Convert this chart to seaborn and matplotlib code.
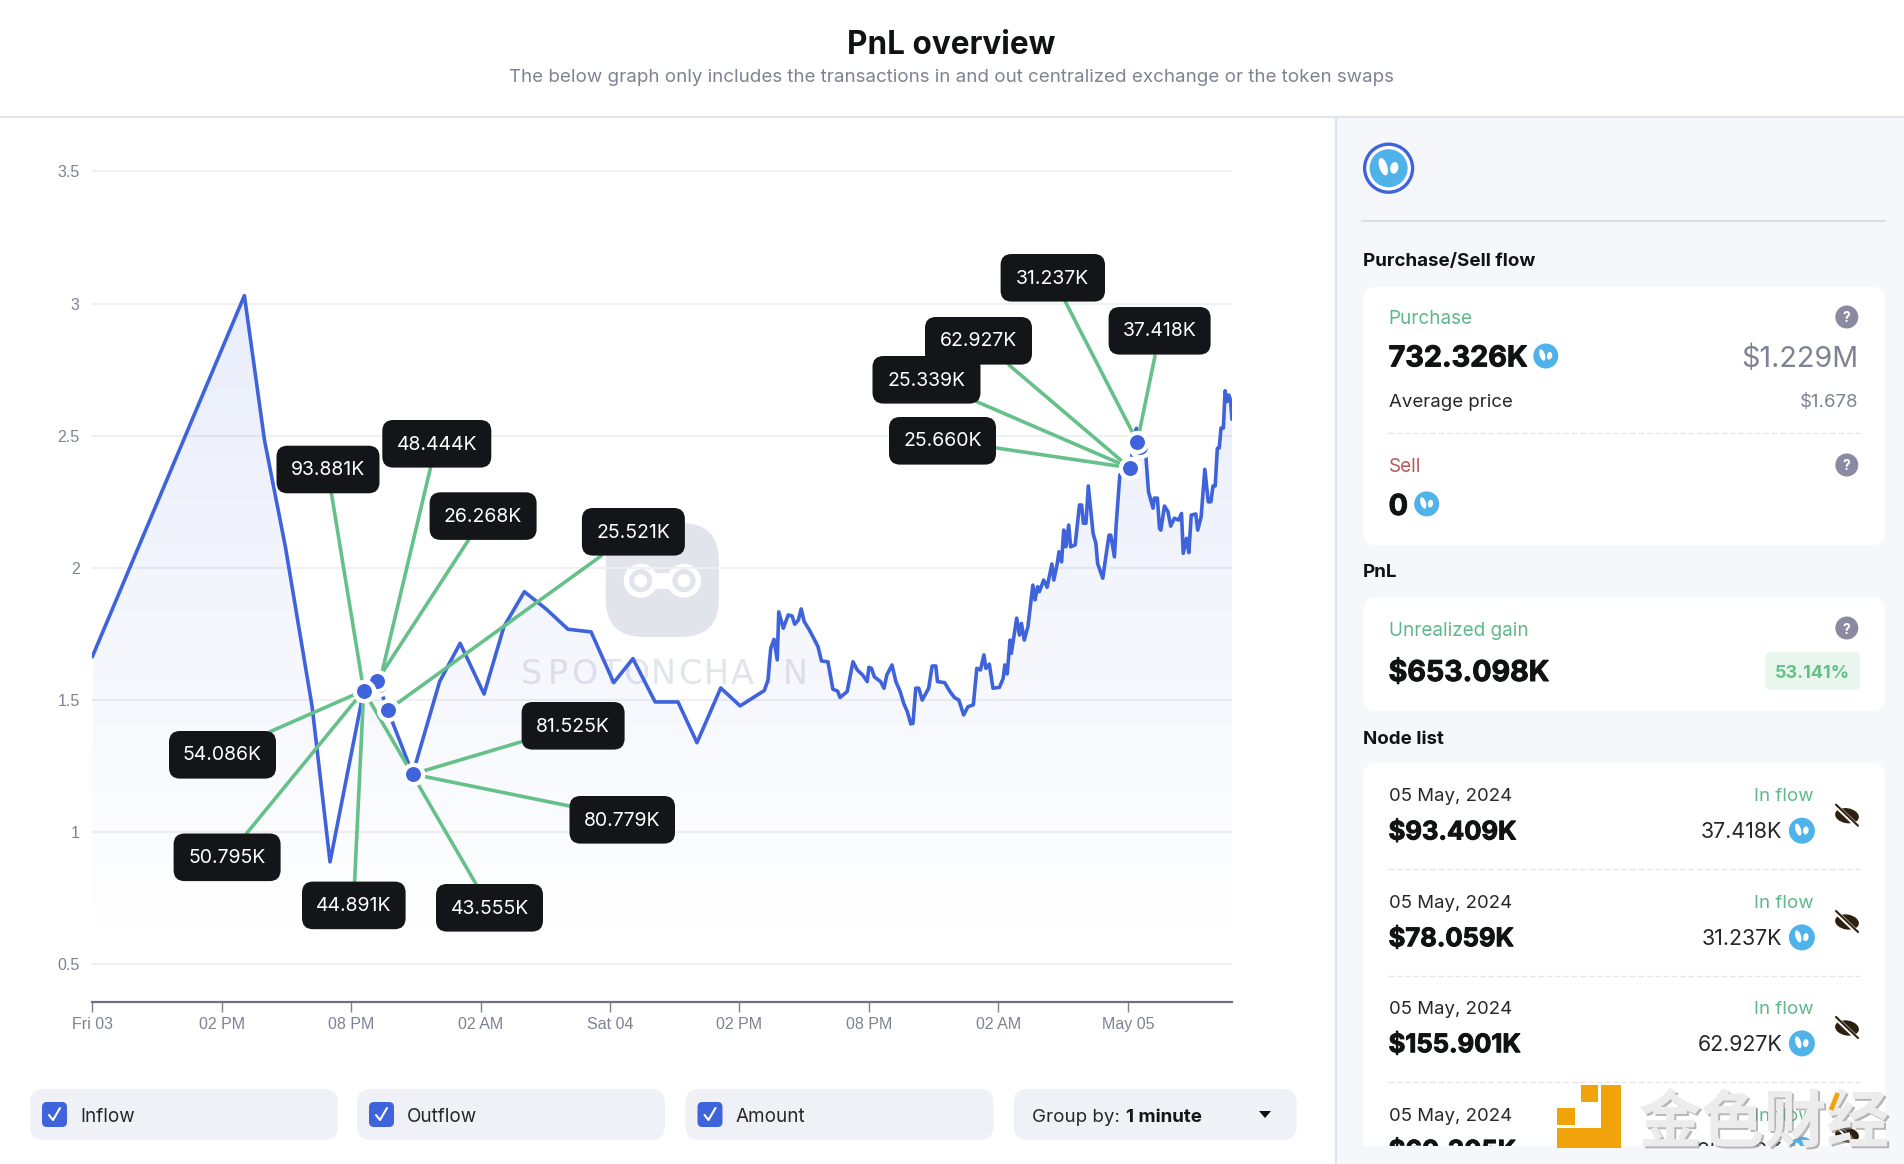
#PnL overview panel

import matplotlib
matplotlib.use('Agg')
import matplotlib.pyplot as plt
import matplotlib.patheffects as pe
from matplotlib.colors import LinearSegmentedColormap
from matplotlib.patches import FancyBboxPatch, Circle, Ellipse, Rectangle, Polygon
import numpy as np
import pandas as pd
import seaborn as sns

# hours since the first tick
price_hours = [0, 7.05, 7.98, 8.95, 10.19, 11.02, 12.58, 13.2, 13.7, 14.85, 16.1, 17.05, 18.16, 19.08, 20.03,
    21.06, 22.05, 23.12, 24.17, 25.06, 26.09, 27.15, 28.03, 29.13, 30.03, 31.15, 31.32, 31.45, 31.6, 31.75,
    31.82, 32.03, 32.26, 32.44, 32.56, 32.73, 32.86, 33.0, 33.22, 33.44, 33.64, 33.8, 34.1, 34.33, 34.55,
    34.66, 34.99, 35.26, 35.46, 35.71, 35.92, 36.0, 36.12, 36.25, 36.54, 36.7, 36.83, 37.07, 37.25, 37.45,
    37.61, 37.78, 37.94, 38.04, 38.17, 38.31, 38.47, 38.77, 38.93, 39.1, 39.18, 39.51, 39.76, 39.96, 40.17,
    40.39, 40.59, 40.84, 41.0, 41.17, 41.33, 41.42, 41.58, 41.75, 42.05, 42.22, 42.3, 42.41, 42.54, 42.6,
    42.85, 42.98, 43.07, 43.2, 43.37, 43.6, 43.7, 43.82, 43.9, 44.1, 44.26, 44.48, 44.57, 44.73, 44.81,
    44.93, 45.03, 45.13, 45.26, 45.35, 45.56, 45.76, 45.86, 45.94, 46.06, 46.17, 46.39, 46.52, 46.6, 46.84,
    46.97, 47.13, 47.21, 47.38, 47.46, 47.63, 48.09, 48.4, 48.44, 48.84, 48.96, 49.17, 49.23, 49.37, 49.47,
    49.53, 49.7, 49.86, 49.99, 50.16, 50.36, 50.49, 50.57, 50.72, 50.83, 50.94, 51.15, 51.24, 51.4, 51.57,
    51.73, 51.85, 51.95, 52.05, 52.15, 52.24, 52.32, 52.43, 52.51, 52.6, 52.68, 52.76, 52.83]
price_values = [1.664, 3.03, 2.484, 2.08, 1.475, 0.888, 1.536, 1.573, 1.462, 1.22, 1.57, 1.715, 1.523, 1.778, 1.91,
    1.843, 1.768, 1.758, 1.566, 1.657, 1.493, 1.493, 1.339, 1.546, 1.478, 1.536, 1.576, 1.696, 1.73, 1.652,
    1.834, 1.772, 1.822, 1.818, 1.787, 1.803, 1.845, 1.797, 1.768, 1.734, 1.702, 1.648, 1.645, 1.541, 1.534,
    1.51, 1.532, 1.645, 1.614, 1.595, 1.57, 1.624, 1.62, 1.588, 1.57, 1.545, 1.595, 1.633, 1.57, 1.532,
    1.488, 1.456, 1.41, 1.412, 1.545, 1.545, 1.5, 1.545, 1.629, 1.629, 1.57, 1.566, 1.532, 1.51, 1.5,
    1.444, 1.475, 1.482, 1.62, 1.614, 1.671, 1.62, 1.636, 1.545, 1.548, 1.582, 1.633, 1.599, 1.727, 1.677,
    1.81, 1.746, 1.79, 1.727, 1.778, 1.935, 1.879, 1.929, 1.91, 1.954, 1.927, 2.015, 1.954, 2.017, 2.061,
    2.023, 2.143, 2.08, 2.162, 2.08, 2.087, 2.238, 2.238, 2.169, 2.169, 2.31, 2.131, 2.093, 2.017, 1.961,
    2.036, 2.124, 2.124, 2.042, 2.162, 2.351, 2.379, 2.528, 2.477, 2.42, 2.288, 2.226, 2.264, 2.264, 2.15,
    2.143, 2.234, 2.213, 2.158, 2.188, 2.181, 2.206, 2.055, 2.112, 2.058, 2.2, 2.204, 2.143, 2.194, 2.373,
    2.25, 2.25, 2.31, 2.31, 2.452, 2.454, 2.529, 2.529, 2.67, 2.629, 2.654, 2.635, 2.562]

x_ticks = [0, 6, 12, 18, 24, 30, 36, 42, 48]
x_labels = ['Fri 03', '02 PM', '08 PM', '02 AM', 'Sat 04', '02 PM', '08 PM', '02 AM', 'May 05']
y_ticks = [0.5, 1, 1.5, 2, 2.5, 3, 3.5]
y_labels = ['0.5', '1', '1.5', '2', '2.5', '3', '3.5']

node_labels = ['93.881K', '48.444K', '26.268K', '25.521K', '54.086K', '50.795K', '44.891K', '43.555K',
    '81.525K', '80.779K', '25.660K', '25.339K', '62.927K', '31.237K', '37.418K']
node_hours = [12.58, 13.29, 13.2, 13.7, 12.58, 12.58, 12.58, 12.58, 14.85, 14.85, 48.09, 48.09, 48.09, 48.57, 48.44]
node_prices = [1.536, 1.557, 1.573, 1.462, 1.536, 1.536, 1.536, 1.536, 1.22, 1.22, 2.379, 2.379, 2.379, 2.457, 2.477]

list_dates = ['05 May, 2024', '05 May, 2024', '05 May, 2024', '05 May, 2024']
list_usd = ['$93.409K', '$78.059K', '$155.901K', '$60.305K']
list_tokens = ['37.418K', '31.237K', '62.927K', '25.339K']

# layout, in pixels of the 1904x1164 picture
box_left = [276.5, 382.3, 429.6, 581.9, 169, 173.6, 302, 436, 521.6, 569.5, 889, 872.5, 925, 1000.6, 1108.6]
box_top = [445.7, 420, 492.3, 508, 731, 833.5, 881.6, 884, 702, 796, 417, 356, 317, 254, 307]
box_w = [103, 109, 107, 103, 107, 107, 103.6, 107, 103, 105.5, 107, 108, 107, 104.4, 102]
line_x = [331.4, 430.5, 468.5, 601, 270, 246.5, 354.6, 476, 521.6, 569.5, 996.4, 976.8, 1009, 1065, 1155]
line_y = [493.3, 467.7, 540, 556, 731.7, 833.5, 881.6, 884, 741.7, 806, 448, 401.7, 365, 301, 356]

BLUE = '#3f63db'
GREEN = '#66c08a'
GREY = '#7f8292'
DARK = '#141518'
TOKEN = '#4fb3ea'
PANEL = '#f6f7fb'
FONT = 'Inter'

sns.set_theme(style='white')
plt.rcParams['font.family'] = [FONT, 'DejaVu Sans']

fig = plt.figure(figsize=(19.04, 11.64), dpi=100, facecolor='white')


def px_axes(z):
    a = fig.add_axes([0, 0, 1, 1], zorder=z)
    a.set_xlim(0, 1904)
    a.set_ylim(1164, 0)
    a.axis('off')
    a.patch.set_alpha(0)
    return a


bg = px_axes(0)
fg = px_axes(2)


def txt(a, x, y, s, size, color=DARK, weight='normal', ha='left', **kw):
    return a.text(x, y, s, fontsize=size, color=color, fontweight=weight, ha=ha, va='center_baseline', **kw)


def heavy(a, x, y, s, size, color='#111214', ha='left'):
    # the page uses a heavier cut than the installed bold
    return txt(a, x, y, s, size, color, 'bold', ha=ha, zorder=3,
        path_effects=[pe.withStroke(linewidth=0.7, foreground=color)])


def card(a, x0, y0, x1, y1, color='white', r=14, z=1):
    a.add_patch(FancyBboxPatch((x0, y0), x1 - x0, y1 - y0, boxstyle='round,pad=0,rounding_size=%s' % r,
        fc=color, ec='none', zorder=z))


def token(a, x, y, r=12.5):
    a.add_patch(Circle((x, y), r, fc=TOKEN, ec='none', zorder=3))
    a.add_patch(Ellipse((x - r * 0.28, y - r * 0.08), r * 0.42, r * 0.95, angle=-18, fc='white', ec='none', zorder=4))
    a.add_patch(Ellipse((x + r * 0.3, y - r * 0.02), r * 0.42, r * 0.62, angle=10, fc='white', ec='none', zorder=4))


def question(a, x, y):
    a.add_patch(Circle((x, y), 11.5, fc='#8a8ba3', ec='none', zorder=3))
    txt(a, x, y, '?', 10, 'white', 'bold', ha='center', zorder=4)


def eye(a, x, y):
    a.add_patch(Ellipse((x, y), 24, 15, angle=10, fc='#2e2010', ec='none', zorder=3))
    a.plot([x - 10, x + 12], [y - 9, y + 12], color='white', lw=3.2, zorder=4, solid_capstyle='butt')
    a.plot([x - 11, x + 11], [y - 11, y + 10], color='#2e2010', lw=1.5, zorder=5)


# page furniture
bg.add_patch(Rectangle((1337, 118), 567, 1046, fc=PANEL, ec='none', zorder=0))
bg.plot([0, 1904], [117, 117], color='#e3e4e9', lw=1.6, zorder=1)
bg.plot([1336, 1336], [117, 1164], color='#e3e4e9', lw=1.6, zorder=1)
txt(bg, 951, 41.5, 'PnL overview', 22.7, '#111214', 'bold', ha='center')
txt(bg, 951, 76, 'The below graph only includes the transactions in and out centralized exchange or the token swaps',
    13.5, GREY, ha='center')

# watermark behind the chart
WM = '#e2e4ec'
card(bg, 605.7, 523, 719, 637, WM, r=38)
for wx in [640.7, 684]:
    bg.add_patch(Circle((wx, 580.7), 17, fc='white', ec='none', zorder=2))
    bg.add_patch(Circle((wx, 580.7), 11.5, fc=WM, ec='none', zorder=3))
    bg.add_patch(Circle((wx, 580.7), 6.5, fc='white', ec='none', zorder=4))
bg.add_patch(Rectangle((655, 573), 15, 16, fc='white', ec='none', zorder=2))
for wx, ch in zip(np.linspace(531, 795, 11), 'SPOTONCHAIN'):
    txt(bg, wx, 670.5, ch, 24, WM, ha='center', family='DejaVu Sans')

# the chart itself, spanned so the ticks land where they do in the picture
ax_left, ax_right, ax_top, ax_bottom = 92.3, 1232, 160, 1002
ax = fig.add_axes([ax_left / 1904, 1 - ax_bottom / 1164, (ax_right - ax_left) / 1904, (ax_bottom - ax_top) / 1164], zorder=1)
ax.patch.set_alpha(0)
x_max = 52.83
y_min, y_max = 0.358, 3.543

df = pd.DataFrame({'hours': price_hours, 'price': price_values})
df_nodes = pd.DataFrame({'hours': node_hours, 'price': node_prices})

shade = LinearSegmentedColormap.from_list('shade', [(0.25, 0.39, 0.86, 0.0), (0.25, 0.39, 0.86, 0.115)])
poly = ax.fill_between(price_hours, price_values, y_min, color='none', lw=0)
im = ax.imshow(np.linspace(1, 0, 256).reshape(-1, 1), extent=[0, x_max, 0.55, 3.05], aspect='auto', cmap=shade, zorder=1)
im.set_clip_path(poly.get_paths()[0], transform=ax.transData)

sns.lineplot(data=df, x='hours', y='price', ax=ax, color=BLUE, lw=2.6, sort=False, estimator=None, errorbar=None, zorder=3)

for i in range(len(node_labels)):
    ax.annotate('', xy=(node_hours[i], node_prices[i]), xycoords='data', xytext=(line_x[i], line_y[i]), textcoords=fg.transData,
        arrowprops=dict(arrowstyle='-', color=GREEN, lw=2.6, shrinkA=0, shrinkB=0), zorder=4)

sns.scatterplot(data=df_nodes, x='hours', y='price', ax=ax, s=190, color=BLUE, edgecolor='white', linewidth=3, zorder=5, legend=False)

ax.set_xlim(0, x_max)
ax.set_ylim(y_min, y_max)
ax.set_xlabel('')
ax.set_ylabel('')
ax.set_xticks(x_ticks)
ax.set_xticklabels(x_labels, family='Liberation Sans', fontsize=11.5, color=GREY)
ax.set_yticks(y_ticks)
ax.set_yticklabels(y_labels, family='Liberation Sans', fontsize=11.5, color=GREY)
ax.tick_params(axis='x', length=7, width=1, color=GREY, pad=3.5, bottom=True)
ax.tick_params(axis='y', length=0, pad=9)
ax.grid(axis='y', color='#eff0f4', lw=1.5)
ax.set_axisbelow(True)
sns.despine(ax=ax, left=True, top=True, right=True)
ax.spines['bottom'].set_color('#6f7080')
ax.spines['bottom'].set_linewidth(1.6)

# value callouts
for i, label in enumerate(node_labels):
    card(fg, box_left[i], box_top[i], box_left[i] + box_w[i], box_top[i] + 47.6, DARK, r=11)
    txt(fg, box_left[i] + box_w[i] / 2, box_top[i] + 22.5, label, 14, 'white', ha='center', zorder=3)

# controls under the chart
toggle_names = ['Inflow', 'Outflow', 'Amount']
toggle_left = [30, 357, 685.5]
for name, tx in zip(toggle_names, toggle_left):
    card(bg, tx, 1089, tx + 308, 1140, '#f0f1f6', r=14)
    card(bg, tx + 12, 1102, tx + 37, 1127, BLUE, r=5, z=2)
    bg.plot([tx + 19, tx + 23, tx + 30], [1115, 1120, 1108], color='white', lw=1.5, zorder=3)
    txt(bg, tx + 50, 1115, name, 13.6, '#26272b')
card(bg, 1013.7, 1089, 1296.6, 1140, '#f0f1f6', r=14)
txt(bg, 1032.5, 1115, 'Group by:', 13.5, '#26272b')
txt(bg, 1125.6, 1115, '1 minute', 13.5, DARK, 'bold')
bg.add_patch(Polygon([[1259, 1111], [1271, 1111], [1265, 1118]], fc='#111', ec='none', zorder=3))

# right hand panel
bg.add_patch(Circle((1388.6, 168.2), 24, fc='white', ec=BLUE, lw=2.4, zorder=2))
token(bg, 1388.6, 168.2, 19)
bg.plot([1362, 1885], [221, 221], color='#dcdde3', lw=1.5, zorder=1)

txt(bg, 1363, 259.5, 'Purchase/Sell flow', 13.5, '#111214', 'bold')
card(bg, 1363.4, 286.5, 1885, 545.6)
txt(bg, 1388.6, 317.5, 'Purchase', 13.6, '#5fb88a', zorder=3)
question(bg, 1846.8, 317)
heavy(bg, 1388.6, 355.9, '732.326K', 20.7)
token(bg, 1545.8, 356)
txt(bg, 1858.7, 355.9, '$1.229M', 20.7, GREY, ha='right', zorder=3)
txt(bg, 1388.6, 400.5, 'Average price', 13.4, '#26272b', zorder=3)
txt(bg, 1858.7, 400.5, '$1.678', 13.4, GREY, ha='right', zorder=3)
bg.plot([1388, 1860], [433.4, 433.4], color='#e6e6ea', lw=1, ls=(0, (4, 2)), zorder=2)
txt(bg, 1388.6, 465.5, 'Sell', 13.6, '#b8575a', zorder=3)
question(bg, 1846.8, 465)
heavy(bg, 1388.6, 504.4, '0', 20.7)
token(bg, 1426.7, 503.9)

txt(bg, 1363, 570.9, 'PnL', 13.5, '#111214', 'bold')
card(bg, 1363.4, 597, 1885, 711.3)
txt(bg, 1388.6, 628.5, 'Unrealized gain', 13.6, '#5fb88a', zorder=3)
question(bg, 1846.8, 628)
heavy(bg, 1388.6, 670.5, '$653.098K', 20.6)
card(bg, 1765.5, 652, 1860, 690, '#e8f6ee', r=6, z=2)
txt(bg, 1812.7, 671, '53.141%', 13, '#66c08a', 'bold', ha='center', zorder=3)

txt(bg, 1363, 737.5, 'Node list', 13.5, '#111214', 'bold')
card(bg, 1363.4, 762.7, 1885, 1180)
row_date = [794.5, 901.5, 1007.5, 1114.5]
row_value = [830.5, 937.2, 1043.2, 1149.5]
row_eye = [815.7, 922, 1028, 1135]
row_dash = [869.3, 975.7, 1082.3]
for i in range(4):
    txt(bg, 1388.6, row_date[i], list_dates[i], 13.4, '#26272b', zorder=3)
    heavy(bg, 1388.6, row_value[i], list_usd[i], 18.4)
    txt(bg, 1814, row_date[i], 'In flow', 13.5, '#5fb88a', ha='right', zorder=3)
    txt(bg, 1782.4, row_value[i], list_tokens[i], 15.4, '#26272b', ha='right', zorder=3)
    token(bg, 1801.9, row_value[i] + 0.2, 13)
    eye(bg, 1847, row_eye[i])
    if i < 3:
        bg.plot([1388, 1860], [row_dash[i]] * 2, color='#e6e6ea', lw=1, ls=(0, (4, 2)), zorder=2)
bg.add_patch(Rectangle((1337, 1146), 567, 18, fc=PANEL, ec='none', zorder=6))

# site stamp over the corner
ORANGE = '#f0a30a'
for rx, ry, rw, rh in [(1600.8, 1085, 20, 63), (1557, 1128, 63, 20), (1581, 1085, 17, 17), (1557, 1108, 17.5, 17)]:
    fg.add_patch(Rectangle((rx, ry), rw, rh, fc=ORANGE, ec='none', zorder=5))
txt(fg, 1764, 1117, '金色财经', 45, '#ececec', 'bold', ha='center', zorder=5, family=['Noto Sans CJK SC', 'DejaVu Sans'],
    path_effects=[pe.withSimplePatchShadow(offset=(1.5, -1.5), shadow_rgbFace='#888888', alpha=0.6), pe.Normal()])
fg.plot([1837.7, 1831], [1093, 1110], color=ORANGE, lw=3.4, zorder=6, solid_capstyle='butt')

fig.savefig('out.png', dpi=100)
